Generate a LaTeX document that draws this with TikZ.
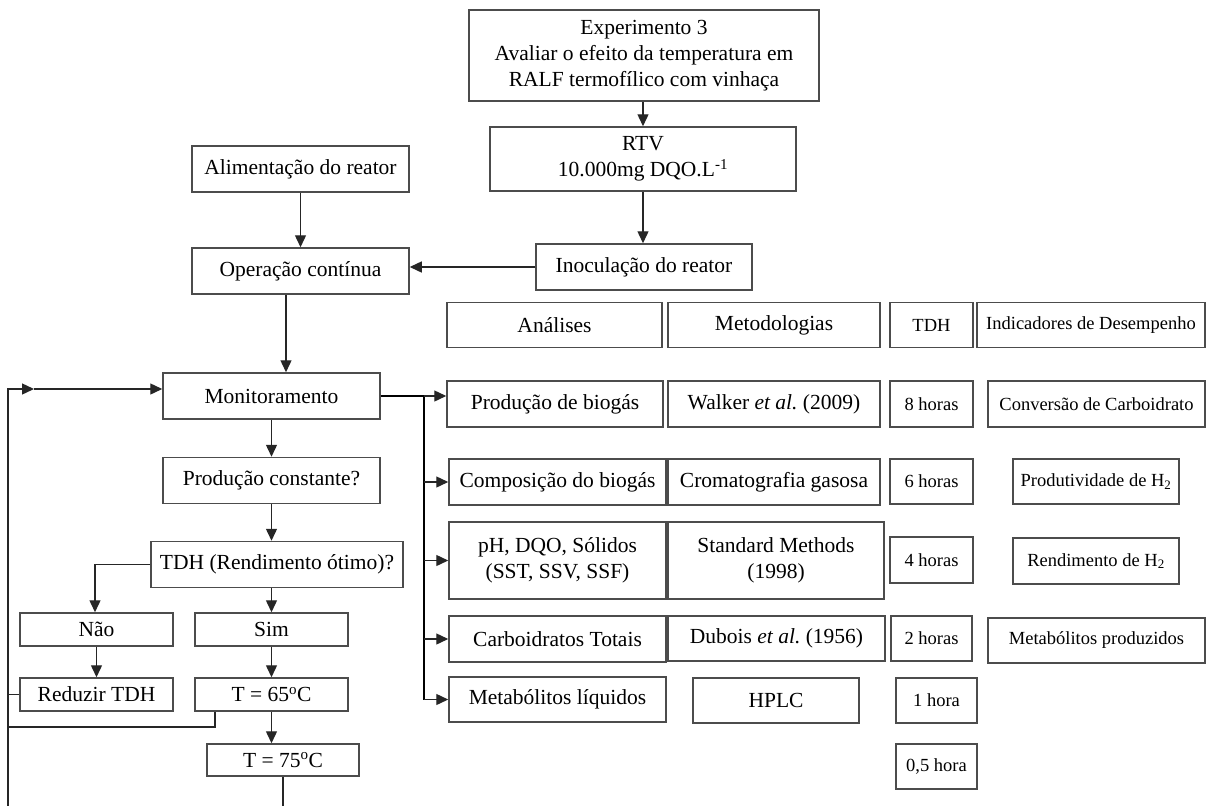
\documentclass[tikz,border=0pt]{standalone}
\usepackage{fontspec}
\setmainfont{Liberation Serif}
\usetikzlibrary{arrows.meta}
\begin{document}
\begin{tikzpicture}[x=1pt,y=-1pt,
  box/.style={draw=black!70, line width=1.5pt, fill=white, inner sep=0pt, align=center, font=\fontsize{21.5}{26}\selectfont},
  sbox/.style={box, font=\fontsize{18.5}{22}\selectfont},
  arr/.style={draw=black!85, line width=1.4pt, -{Triangle[length=12pt,width=11pt]}},
  ln/.style={draw=black!85, line width=1.4pt},
  trunk/.style={draw=black, line width=2pt}]
\useasboundingbox (0,0) rectangle (1211,806);
% left column / top
\node[box, minimum width=350pt, minimum height=91pt] (exp) at (644,55.5) {Experimento 3\\Avaliar o efeito da temperatura em\\RALF termofílico com vinhaça};
\node[box, minimum width=306pt, minimum height=64pt] (rtv) at (643,159) {RTV\\10.000mg DQO.L\textsuperscript{-1}};
\node[box, minimum width=217pt, minimum height=46pt] (alim) at (300.5,169) {Alimentação do reator};
\node[box, minimum width=217pt, minimum height=46pt] (oper) at (300.5,271) {Operação contínua};
\node[box, minimum width=216pt, minimum height=46pt] (inoc) at (644,267) {Inoculação do reator};
\node[box, minimum width=217pt, minimum height=46pt] (mon) at (271.5,396) {Monitoramento};
\node[box, minimum width=217pt, minimum height=46pt] (prodc) at (271.5,480.5) {Produção constante?};
\node[box, minimum width=252pt, minimum height=46pt] (tdhq) at (277,564.5) {TDH (Rendimento ótimo)?};
\node[box, minimum width=153pt, minimum height=33pt] (nao) at (96.5,629.5) {Não};
\node[box, minimum width=153pt, minimum height=33pt] (sim) at (271.5,629.5) {Sim};
\node[box, minimum width=153pt, minimum height=33pt] (red) at (96.5,694.5) {Reduzir TDH};
\node[box, minimum width=153pt, minimum height=33pt] (t65) at (271.5,694.5) {T = 65\textsuperscript{o}C};
\node[box, minimum width=152pt, minimum height=32pt] (t75) at (283,760) {T = 75\textsuperscript{o}C};
% table
\node[box, minimum width=215pt, minimum height=45pt] (an) at (554.5,325) {Análises};
\node[box, minimum width=212pt, minimum height=45pt] (met) at (774,325) {Metodologias};
\node[sbox, minimum width=83pt, minimum height=45pt] (tdhh) at (931.5,325) {TDH};
\node[sbox, minimum width=228pt, minimum height=45pt] (ind) at (1091,325) {Indicadores de Desempenho};
\node[box, minimum width=216pt, minimum height=46pt] (pb) at (555,404) {Produção de biogás};
\node[box, minimum width=212pt, minimum height=46pt] (walk) at (774,404) {Walker \textit{et al.}\ (2009)};
\node[sbox, minimum width=83pt, minimum height=46pt] (h8) at (931.5,404) {8 horas};
\node[sbox, minimum width=217pt, minimum height=46pt] (conv) at (1096.5,404) {Conversão de Carboidrato};
\node[box, minimum width=217pt, minimum height=46pt] (comp) at (557.5,482) {Composição do biogás};
\node[box, minimum width=212pt, minimum height=46pt] (crom) at (774,482) {Cromatografia gasosa};
\node[sbox, minimum width=83pt, minimum height=45pt] (h6) at (931.5,481.5) {6 horas};
\node[sbox, minimum width=166pt, minimum height=45pt] (produt) at (1096,481.5) {Produtividade de H\textsubscript{2}};
\node[box, minimum width=217pt, minimum height=77pt] (ph) at (557.5,560.5) {pH, DQO, Sólidos\\(SST, SSV, SSF)};
\node[box, minimum width=216pt, minimum height=77pt] (std) at (776,560.5) {Standard Methods\\(1998)};
\node[sbox, minimum width=83pt, minimum height=46pt] (h4) at (931.5,560) {4 horas};
\node[sbox, minimum width=166pt, minimum height=46pt] (rend) at (1096,561) {Rendimento de H\textsubscript{2}};
\node[box, minimum width=217pt, minimum height=46pt] (carb) at (557.5,639) {Carboidratos Totais};
\node[box, minimum width=217pt, minimum height=45pt] (dub) at (776.5,638.5) {Dubois \textit{et al.}\ (1956)};
\node[sbox, minimum width=81pt, minimum height=45pt] (h2) at (931.5,638.5) {2 horas};
\node[sbox, minimum width=217pt, minimum height=45pt] (metp) at (1096.5,640.5) {Metabólitos produzidos};
\node[box, minimum width=217pt, minimum height=45pt] (metl) at (557.5,699.5) {Metabólitos líquidos};
\node[box, minimum width=166pt, minimum height=45pt] (hplc) at (776,700.5) {HPLC};
\node[sbox, minimum width=81pt, minimum height=45pt] (h1) at (936.5,700.5) {1 hora};
\node[sbox, minimum width=81pt, minimum height=45pt] (h05) at (936.5,766.5) {0,5 hora};
% coordinates
\coordinate (bl) at (8,806);
\coordinate (bt) at (283,806);
\coordinate (loopmid) at (34,389);
\coordinate (lj) at (8,727);
\coordinate (tr) at (424,396);
% connectors
\draw[arr] (exp.south -| rtv.north) -- (rtv.north);
\draw[arr] (rtv.south) -- (rtv.south |- inoc.north);
\draw[arr] (alim.south) -- (oper.north);
\draw[arr] (inoc.west) -- (oper.east |- inoc.west);
\draw[arr] ([xshift=-14.5pt]oper.south) -- ([xshift=-14.5pt]oper.south |- mon.north);
\draw[arr] (mon.south) -- (prodc.north);
\draw[arr] (prodc.south) -- (prodc.south |- tdhq.north);
\draw[arr] (tdhq.west) -| ([xshift=-1.5pt]nao.north);
\draw[arr] (tdhq.south -| sim.north) -- (sim.north);
\draw[arr] (nao.south) -- (red.north);
\draw[arr] (sim.south) -- (t65.north);
\draw[arr] (t65.south) -- (t65.south |- t75.north);
\draw[ln] (t75.south) -- (bt);
\draw[ln] (red.west) -- (red.west -| bl);
\draw[ln] ([xshift=-56.5pt]t65.south) |- (lj);
\draw[arr] (bl) |- (loopmid);
\draw[arr] (loopmid) -- (mon.west |- loopmid);
\draw[trunk] (mon.east) -- (tr);
\draw[trunk] (tr) -- (tr |- metl.west);
\draw[arr] (tr) -- (pb.west |- tr);
\draw[arr] (tr |- comp.west) -- (comp.west);
\draw[arr] (tr |- ph.west) -- (ph.west);
\draw[arr] (tr |- carb.west) -- (carb.west);
\draw[arr] (tr |- metl.west) -- (metl.west);
\end{tikzpicture}
\end{document}
